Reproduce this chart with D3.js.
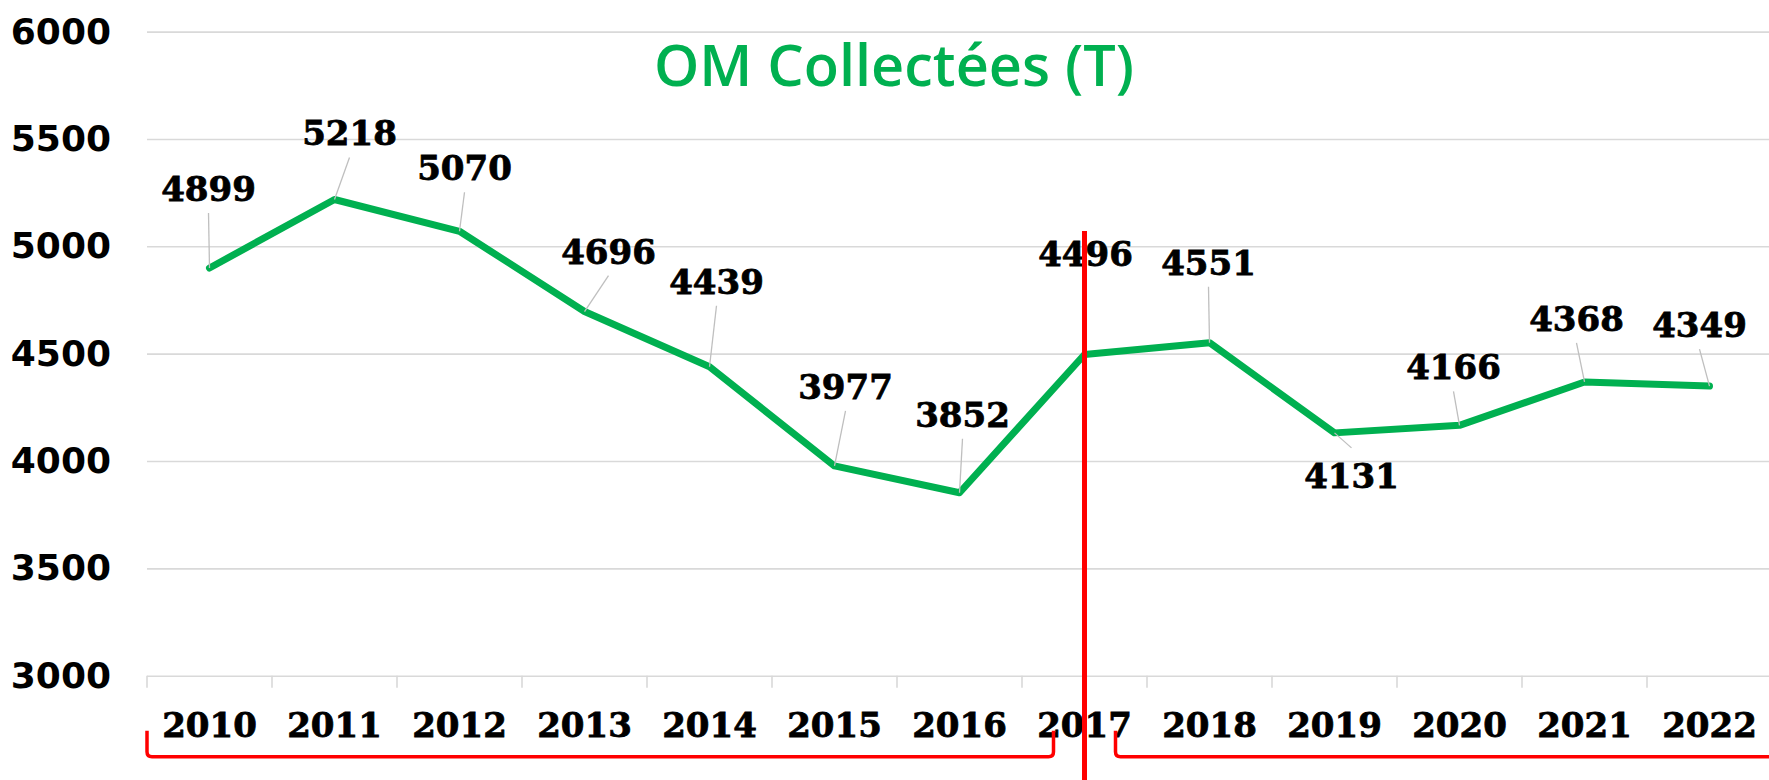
<!DOCTYPE html>
<html>
<head>
<meta charset="utf-8">
<script src="https://cdn.jsdelivr.net/npm/d3@7"></script>
<style>
  body { margin: 0; background: #fff; }
  svg { display: block; }
</style>
</head>
<body>
<svg id="chart" viewBox="0 0 1769 780" width="1769" height="780"></svg>
<script>
// data
const years = ["2010", "2011", "2012", "2013", "2014", "2015", "2016",
               "2017", "2018", "2019", "2020", "2021", "2022"];
const tonnes = [4899, 5218, 5070, 4696, 4439, 3977, 3852,
                4496, 4551, 4131, 4166, 4368, 4349];
const yTicks = [3000, 3500, 4000, 4500, 5000, 5500, 6000];
const title = "OM Collectées (T)";
const splitYear = "2017";

// label nudges (px from the point), like a manually placed excel label
const labelNudge = [[-1, -80], [15, -67], [5, -64], [24, -61], [7, -86], [11, -80], [3, -79],
                    [1, -102], [-1, -81], [17, 42], [-6, -59], [-8, -64], [-10, -62]];

const svg = d3.select("#chart");
const width = parseInt(svg.attr("viewBox").split(" ")[2]);
const height = parseInt(svg.attr("viewBox").split(" ")[3]);
const margin = { left: 147, right: -3, top: 31.6, bottom: 104.3 };

const green = "#00b050";
const red = "#ff0000";
const gridColor = "#d9d9d9";

const x = d3.scaleBand()
  .domain(years)
  .range([margin.left, width - margin.right])
  .padding(0);

const y = d3.scaleLinear()
  .domain([3000, 6000])
  .range([height - margin.bottom, margin.top]);

const cx = (d) => x(d) + x.bandwidth() / 2;

// gridlines + y labels
const yAxis = svg.append("g")
  .attr("transform", `translate(${margin.left},0)`)
  .call(d3.axisLeft(y).tickValues(yTicks).tickFormat(d3.format("d"))
    .tickSize(-(width - margin.right - margin.left)).tickPadding(36));
yAxis.select(".domain").remove();
yAxis.selectAll(".tick line").attr("stroke", gridColor).attr("stroke-width", 1.6);
yAxis.selectAll(".tick text")
  .attr("fill", "#000")
  .style("font-family", "'DejaVu Sans', sans-serif")
  .style("font-weight", "bold")
  .style("font-size", "36px");

// x axis with ticks between categories
const xBase = y(3000);
svg.append("g")
  .selectAll("line")
  .data(years.concat(["end"]))
  .enter()
  .append("line")
  .attr("x1", (d, i) => margin.left + i * x.bandwidth())
  .attr("x2", (d, i) => margin.left + i * x.bandwidth())
  .attr("y1", xBase)
  .attr("y2", xBase + 12)
  .attr("stroke", gridColor)
  .attr("stroke-width", 1.6);

svg.append("g")
  .selectAll("text")
  .data(years)
  .enter()
  .append("text")
  .attr("x", (d) => cx(d))
  .attr("y", xBase + 61)
  .attr("text-anchor", "middle")
  .style("font-family", "'DejaVu Serif', serif")
  .style("font-weight", "bold")
  .style("font-size", "34px")
  .style("stroke", "#000")
  .style("stroke-width", 0.8)
  .text((d) => d);

// title
const titleText = svg.append("text")
  .attr("x", 894)
  .attr("y", 86)
  .attr("text-anchor", "middle")
  .attr("fill", green)
  .style("font-family", "'Open Sans', sans-serif")
  .style("font-weight", 600)
  .style("font-size", "58px")
  .text(title);
if (titleText.node().getComputedTextLength() > 480) {
  titleText.attr("textLength", 480).attr("lengthAdjust", "spacingAndGlyphs");
}

// the series line
const points = years.map((d, i) => ({ year: d, value: tonnes[i], nudge: labelNudge[i] }));

svg.append("path")
  .datum(points)
  .attr("fill", "none")
  .attr("stroke", green)
  .attr("stroke-width", 7)
  .attr("stroke-linejoin", "round")
  .attr("stroke-linecap", "round")
  .attr("d", d3.line().x((d) => cx(d.year)).y((d) => y(d.value)));

// leader lines
svg.append("g")
  .selectAll("line")
  .data(points)
  .enter()
  .append("line")
  .attr("x1", (d) => cx(d.year))
  .attr("y1", (d) => y(d.value))
  .attr("x2", (d) => cx(d.year) + d.nudge[0])
  .attr("y2", (d) => y(d.value) + d.nudge[1] + (d.nudge[1] < 0 ? 25 : -27))
  .attr("stroke", "#bfbfbf")
  .attr("stroke-width", 1.3);

// value labels
svg.append("g")
  .selectAll("text")
  .data(points)
  .enter()
  .append("text")
  .attr("x", (d) => cx(d.year) + d.nudge[0])
  .attr("y", (d) => y(d.value) + d.nudge[1] + 13)
  .attr("text-anchor", "middle")
  .style("font-family", "'DejaVu Serif', serif")
  .style("font-weight", "bold")
  .style("font-size", "34px")
  .style("stroke", "#000")
  .style("stroke-width", 0.8)
  .text((d) => d.value);

// red separator at 2017
const splitX = cx(splitYear);
svg.append("line")
  .attr("x1", splitX)
  .attr("x2", splitX)
  .attr("y1", 231)
  .attr("y2", height)
  .attr("stroke", red)
  .attr("stroke-width", 5);

// braces under the years
const bTop = xBase + 55, bBot = xBase + 81, r = 5;
function bracket(x0, x1, openRight) {
  let p = `M${x0},${bTop} L${x0},${bBot - r} Q${x0},${bBot} ${x0 + r},${bBot}`;
  if (openRight) return p + ` L${x1},${bBot}`;
  return p + ` L${x1 - r},${bBot} Q${x1},${bBot} ${x1},${bBot - r} L${x1},${bTop}`;
}
svg.append("path")
  .attr("d", bracket(x(years[0]), splitX - 31, false))
  .attr("fill", "none").attr("stroke", red).attr("stroke-width", 3.5);
svg.append("path")
  .attr("d", bracket(splitX + 31, width + 10, true))
  .attr("fill", "none").attr("stroke", red).attr("stroke-width", 3.5);
</script>
</body>
</html>
